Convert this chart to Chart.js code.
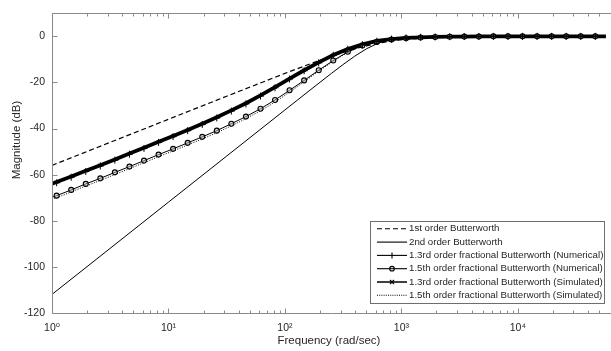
<!DOCTYPE html>
<html><head><meta charset="utf-8">
<script src="https://cdn.jsdelivr.net/npm/chart.js@4.4.1/dist/chart.umd.min.js"></script>
<style>html,body{margin:0;padding:0;background:#fff;overflow:hidden}#wrap{width:611px;height:351px;position:relative}</style>
</head><body><div id="wrap"><canvas id="c" width="611" height="351"></canvas></div>
<script>
// ---- data ----
const seriesNames = [
  '1st order Butterworth',
  '2nd order Butterworth',
  '1.3rd order fractional Butterworth (Numerical)',
  '1.5th order fractional Butterworth (Numerical)',
  '1.3rd order fractional Butterworth (Simulated)',
  '1.5th order fractional Butterworth (Simulated)'
];
const freqButter = [1, 10, 31.62, 100, 177.8, 251.2, 316.2, 398.1, 501.2, 631, 794.3, 1000, 1778, 3162, 10000, 100000];
const firstOrder = [-55.96, -35.96, -25.97, -16.06, -11.30, -8.60, -6.94, -5.43, -4.10, -2.99, -2.11, -1.44, -0.51, -0.17, -0.02, 0];
const secondOrder = [-111.92, -71.92, -51.92, -31.92, -21.95, -16.03, -12.19, -8.57, -5.40, -2.97, -1.43, -0.63, -0.07, -0.01, 0, 0];
const freqFrac = [1, 1.096, 1.462, 1.950, 2.600, 3.467, 4.624, 6.166, 8.222, 10.96, 14.62, 19.50, 26.0, 34.67, 46.24, 61.66, 82.22,
  109.6, 146.2, 195.0, 260.0, 346.7, 462.4, 616.6, 822.2, 1096, 1462, 1950, 2600, 3467, 4624, 6166, 8222,
  10960, 14620, 19500, 26000, 34670, 46240, 61660];
const num13 = [-64.2, -63.5, -61.1, -58.6, -56.2, -53.7, -51.1, -48.6, -46.0, -43.5, -40.9, -38.2, -35.4, -32.4, -29.3, -25.9, -22.3,
  -18.5, -14.9, -11.5, -8.2, -5.6, -3.6, -2.1, -1.2, -0.7, -0.4, -0.25, -0.15, -0.1, -0.05, 0, 0,
  0, 0, 0, 0, 0, 0, 0];
const num15 = [-69.8, -69.1, -66.6, -64.0, -61.6, -59.0, -56.5, -53.9, -51.3, -48.8, -46.2, -43.6, -40.9, -37.9, -34.8, -31.4, -27.6,
  -23.4, -19.1, -14.7, -10.5, -6.7, -4.0, -2.4, -1.4, -0.8, -0.5, -0.3, -0.2, -0.1, -0.1, 0, 0,
  0, 0, 0, 0, 0, 0, 0];
const sim13 = [-63.9, -63.2, -60.8, -58.3, -55.9, -53.4, -50.8, -48.3, -45.7, -43.2, -40.6, -37.9, -35.1, -32.1, -29.0, -25.6, -22.0,
  -18.3, -14.7, -11.3, -8.1, -5.5, -3.5, -2.0, -1.2, -0.7, -0.4, -0.25, -0.15, -0.1, -0.05, 0, 0,
  0, 0, 0, 0, 0, 0, 0];
const sim15 = [-70.7, -70.0, -67.5, -64.9, -62.5, -59.9, -57.4, -54.8, -52.2, -49.7, -47.1, -44.5, -41.8, -38.8, -35.7, -32.3, -28.5,
  -24.2, -19.7, -15.1, -10.8, -6.9, -4.2, -2.5, -1.5, -0.8, -0.5, -0.3, -0.2, -0.1, -0.1, 0, 0,
  0, 0, 0, 0, 0, 0, 0];
const xTickLabels = ['10\u2070', '10\u00b9', '10\u00b2', '10\u00b3', '10\u2074'];
const yTickValues = [-120, -100, -80, -60, -40, -20, 0];
const xTitle = 'Frequency (rad/sec)';
const yTitle = 'Magnitude (dB)';

const pts = (xs, ys) => xs.map((v, i) => ({x: v, y: ys[i]}));

const FONT = '"Liberation Sans", Arial, "DejaVu Sans", sans-serif';
const INK = '#262626';
const AXIS = '#8a8a8a';

const datasets = [
  {label: seriesNames[0], data: pts(freqButter, firstOrder), borderColor: '#000', borderWidth: 1.2, borderDash: [5, 3], pointRadius: 0, legendDash: [5, 3], legendMarker: null},
  {label: seriesNames[1], data: pts(freqButter, secondOrder), borderColor: '#000', borderWidth: 1, pointRadius: 0, legendMarker: null},
  {label: seriesNames[2], data: pts(freqFrac, num13), borderColor: '#000', borderWidth: 1, pointStyle: 'cross', pointRadius: c => c.dataIndex === 0 ? 0 : 3.5, pointBorderWidth: 1, pointBorderColor: '#000', legendMarker: 'cross'},
  {label: seriesNames[3], data: pts(freqFrac, num15), borderColor: '#000', borderWidth: 1, pointStyle: 'circle', pointRadius: c => c.dataIndex === 0 ? 0 : 2.5, pointBorderWidth: 1.1, pointBorderColor: '#000', pointBackgroundColor: 'rgba(180,180,180,0.5)', legendMarker: 'circle'},
  {label: seriesNames[4], data: pts(freqFrac, sim13), borderColor: '#000', borderWidth: 3.8, pointStyle: 'crossRot', pointRadius: c => c.dataIndex === 0 ? 0 : 2.2, pointBorderWidth: 1, pointBorderColor: '#000', legendMarker: 'crossRot'},
  {label: seriesNames[5], data: pts(freqFrac, sim15), borderColor: '#000', borderWidth: 1, borderDash: [1, 1.5], pointRadius: 0, legendDash: [1, 1.2], legendMarker: null}
];

const framePlugin = {
  id: 'frame',
  afterDatasetsDraw(chart) {
    const {ctx, chartArea: a, scales: {x, y}} = chart;
    ctx.save();
    ctx.strokeStyle = AXIS;
    ctx.lineWidth = 1;
    const L = Math.round(a.left) + 0.5, T = Math.round(a.top) + 0.5, B = Math.round(a.bottom) + 0.5, R = chart.width + 2;
    ctx.beginPath();
    ctx.moveTo(R, T); ctx.lineTo(L, T); ctx.lineTo(L, B); ctx.lineTo(R, B);
    x.ticks.forEach(t => {
      const px = Math.round(x.getPixelForValue(t.value)) + 0.5;
      const len = t.major ? 5 : 3;
      ctx.moveTo(px, B); ctx.lineTo(px, B - len);
      ctx.moveTo(px, T); ctx.lineTo(px, T + len);
    });
    y.ticks.forEach(t => {
      const py = Math.round(y.getPixelForValue(t.value)) + 0.5;
      ctx.moveTo(L, py); ctx.lineTo(L + 5, py);
    });
    ctx.stroke();
    ctx.restore();
  },
  afterDraw(chart) {
    const {ctx} = chart;
    // y-axis title
    ctx.save();
    ctx.fillStyle = INK;
    ctx.font = '11.5px ' + FONT;
    ctx.textAlign = 'center';
    ctx.textBaseline = 'middle';
    ctx.translate(17, 140);
    ctx.rotate(-Math.PI / 2);
    ctx.fillText(yTitle, 0, 0);
    ctx.restore();
    // legend
    const bx = 370.5, by = 221.5, bw = 234, bh = 82;
    ctx.save();
    ctx.fillStyle = '#fff';
    ctx.fillRect(bx, by, bw, bh);
    ctx.strokeStyle = '#6e6e6e';
    ctx.lineWidth = 1;
    ctx.strokeRect(bx, by, bw, bh);
    ctx.font = '9.7px ' + FONT;
    ctx.textBaseline = 'middle';
    ctx.fillStyle = INK;
    chart.data.datasets.forEach((ds, i) => {
      const ry = 228.8 + i * 13.3;
      const x0 = 377, x1 = 407, xm = 392;
      ctx.save();
      ctx.strokeStyle = '#000';
      ctx.lineWidth = ds.borderWidth > 2 ? 1.5 : 1.1;
      ctx.setLineDash(ds.legendDash || []);
      ctx.beginPath(); ctx.moveTo(x0, ry); ctx.lineTo(x1, ry); ctx.stroke();
      ctx.setLineDash([]);
      ctx.lineWidth = 1.1;
      ctx.beginPath();
      if (ds.legendMarker === 'cross') { ctx.moveTo(xm, ry - 3); ctx.lineTo(xm, ry + 3); }
      else if (ds.legendMarker === 'crossRot') { ctx.moveTo(xm - 2, ry - 2); ctx.lineTo(xm + 2, ry + 2); ctx.moveTo(xm - 2, ry + 2); ctx.lineTo(xm + 2, ry - 2); }
      else if (ds.legendMarker === 'circle') { ctx.arc(xm, ry, 2.3, 0, Math.PI * 2); }
      ctx.stroke();
      ctx.restore();
      ctx.fillText(ds.label, 409, ry);
    });
    ctx.restore();
  }
};

new Chart(document.getElementById('c'), {
  type: 'line',
  data: {datasets},
  plugins: [framePlugin],
  options: {
    responsive: false,
    animation: false,
    devicePixelRatio: 1,
    layout: {padding: {top: 9, right: 1, bottom: 0, left: 0}},
    plugins: {legend: {display: false}, tooltip: {enabled: false}},
    elements: {line: {tension: 0}},
    scales: {
      x: {
        type: 'logarithmic', min: 1, max: 57000,
        grid: {display: false, drawTicks: false},
        border: {display: false},
        afterBuildTicks: s => {
          const t = [];
          for (let d = 0; d <= 4; d++) for (let m = 1; m <= 9; m++) {
            const v = m * Math.pow(10, d);
            if (v <= 57000) t.push({value: v, major: m === 1});
          }
          s.ticks = t;
        },
        afterFit: s => { s.height = 38; },
        ticks: {
          autoSkip: false, maxRotation: 0, padding: 9, color: INK,
          font: {family: FONT, size: 10.5},
          callback: (v) => {
            const e = Math.round(Math.log10(v));
            return Math.abs(v - Math.pow(10, e)) < 1e-9 ? xTickLabels[e] : '';
          }
        },
        title: {display: true, text: xTitle, color: INK, font: {family: FONT, size: 11.5}, padding: {top: 0, bottom: 3}}
      },
      y: {
        min: -120, max: 10,
        grid: {display: false, drawTicks: false},
        border: {display: false},
        afterBuildTicks: s => { s.ticks = yTickValues.map(v => ({value: v})); },
        afterFit: s => { s.width = 52; },
        ticks: {padding: 7, color: INK, font: {family: FONT, size: 10.5}},
        title: {display: false}
      }
    }
  }
});
</script></body></html>
